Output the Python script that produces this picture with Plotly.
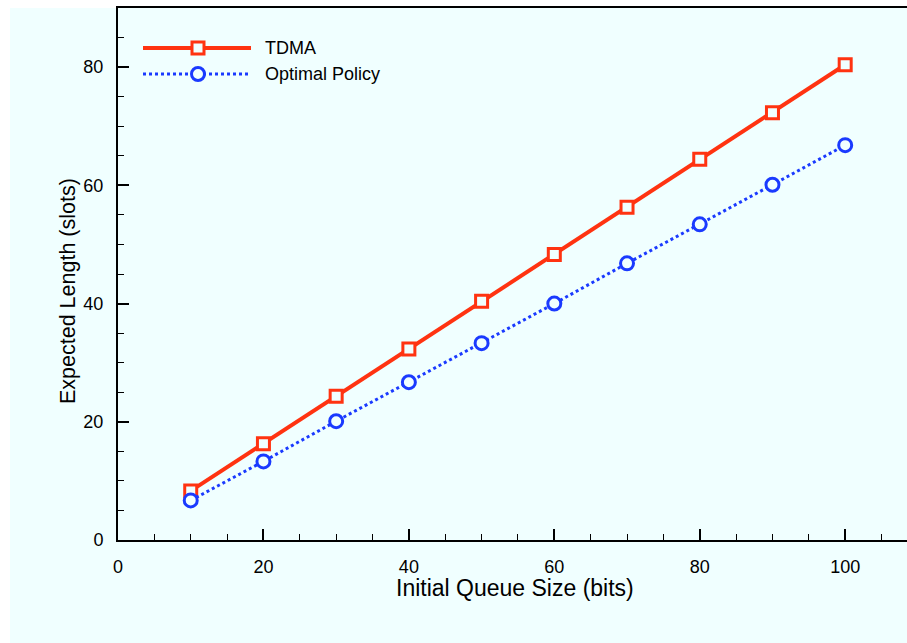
import plotly.graph_objects as go

# ---- data ----
queue_size = [10, 20, 30, 40, 50, 60, 70, 80, 90, 100]
tdma = [8.3, 16.3, 24.3, 32.3, 40.4, 48.3, 56.3, 64.4, 72.3, 80.4]
optimal = [6.7, 13.3, 20.1, 26.7, 33.3, 40.0, 46.8, 53.4, 60.1, 66.8]
series_names = ["TDMA", "Optimal Policy"]
x_title = "Initial Queue Size (bits)"
y_title = "Expected Length (slots)"

# ---- style ----
BG = "#F0FFFF"
RED = "#FF3311"
BLUE = "#1A3AFF"
FONT = "Liberation Sans, Arial, Helvetica, sans-serif"

W, H = 907, 643
ML, MR, MT, MB = 118, 0, 8, 103
PW, PH = W - ML - MR, H - MT - MB


def px_x(px):
    return (px - ML) / PW


def px_y(py):
    return (MT + PH - py) / PH


fig = go.Figure()
fig.add_trace(go.Scatter(
    x=queue_size, y=tdma, mode="lines+markers", name=series_names[0],
    line=dict(color=RED, width=4),
    marker=dict(symbol="square", size=12, color=BG, line=dict(color=RED, width=3)),
    showlegend=False, cliponaxis=False))
fig.add_trace(go.Scatter(
    x=queue_size, y=optimal, mode="lines+markers", name=series_names[1],
    line=dict(color=BLUE, width=3, dash="dot"),
    marker=dict(symbol="circle", size=13, color=BG, line=dict(color=BLUE, width=3)),
    showlegend=False, cliponaxis=False))

axis_common = dict(
    showgrid=False, zeroline=False, showline=True, linecolor="black", linewidth=2,
    ticks="inside", ticklen=11, tickwidth=2, tickcolor="black",
    tickfont=dict(family=FONT, size=18, color="black"),
    minor=dict(ticks="inside", ticklen=6, tickwidth=1, tickcolor="black", dtick=5),
    ticklabelstandoff=9,
)

fig.update_xaxes(range=[0, 108.5], tick0=0, dtick=20, mirror=True, **axis_common)
fig.update_yaxes(range=[0, 90], tick0=0, dtick=20, **axis_common)

# background panel (light cyan) that covers plot + label areas
shapes = [dict(type="rect", xref="paper", yref="paper", layer="below",
               x0=px_x(10), x1=1.05, y0=px_y(H), y1=1,
               fillcolor=BG, line=dict(width=0))]

annotations = [
    dict(xref="paper", yref="paper", x=px_x(515), y=px_y(588),
         xanchor="center", yanchor="middle", showarrow=False, text=x_title,
         font=dict(family=FONT, size=23, color="black")),
    dict(xref="paper", yref="paper", x=px_x(68), y=px_y(291),
         xanchor="center", yanchor="middle", showarrow=False, text=y_title,
         textangle=-90, font=dict(family=FONT, size=21.5, color="black")),
]

# custom legend (long sample lines like the reference)
legend_rows = [
    dict(name=series_names[0], color=RED, dash="solid", width=4, sym="rect", yoff=-40),
    dict(name=series_names[1], color=BLUE, dash="dot", width=3, sym="circle", yoff=-66),
]
for r in legend_rows:
    shapes.append(dict(type="line", xref="paper", yref="paper",
                       xsizemode="pixel", ysizemode="pixel", xanchor=0, yanchor=1,
                       x0=25, x1=133, y0=r["yoff"], y1=r["yoff"],
                       line=dict(color=r["color"], width=r["width"], dash=r["dash"])))
    half = 6 if r["sym"] == "rect" else 6.5
    shapes.append(dict(type=r["sym"], xref="paper", yref="paper",
                       xsizemode="pixel", ysizemode="pixel", xanchor=0, yanchor=1,
                       x0=80 - half, x1=80 + half, y0=r["yoff"] - half, y1=r["yoff"] + half,
                       fillcolor=BG, line=dict(color=r["color"], width=3)))
    annotations.append(dict(xref="paper", yref="paper", x=px_x(263),
                            y=1 + r["yoff"] / PH, xanchor="left", yanchor="middle",
                            showarrow=False, text=r["name"],
                            font=dict(family=FONT, size=18, color="black")))

fig.update_layout(
    width=W, height=H, autosize=False,
    margin=dict(l=ML, r=MR, t=MT, b=MB, pad=0),
    paper_bgcolor="white", plot_bgcolor=BG,
    font=dict(family=FONT, color="black"),
    shapes=shapes, annotations=annotations,
    showlegend=False,
)

fig.write_html("out.html")
